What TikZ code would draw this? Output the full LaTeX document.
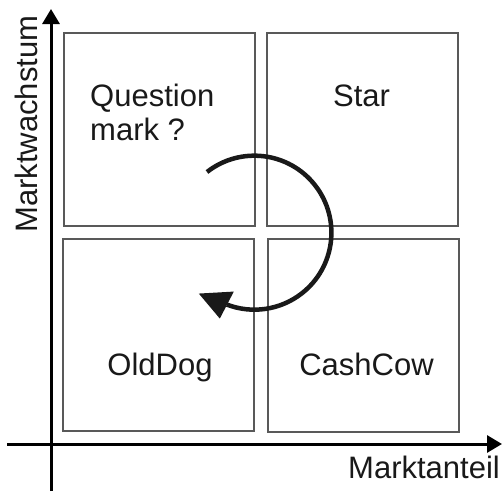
\documentclass[tikz,border=0pt]{standalone}
\usepackage{fontspec}
\setmainfont{Liberation Sans}
\usetikzlibrary{arrows.meta}
\begin{document}
\begin{tikzpicture}[x=1pt,y=-1pt,
  cell/.style={draw=black!65, line width=1.1pt, inner sep=0pt},
  lbl/.style={font=\fontsize{31}{35}\selectfont, inner sep=0pt, text=black!90},
  axis/.style={line width=3pt, -{Triangle[length=15pt,width=17pt]}}]
\useasboundingbox (0,0) rectangle (502,491);
% boxes
\node[cell, minimum width=191pt, minimum height=193pt] (q) at (159.5,129.5) {};
\node[cell, minimum width=191pt, minimum height=193pt] (s) at (362.5,129.5) {};
\node[cell, minimum width=191pt, minimum height=192pt] (d) at (158.5,335) {};
\node[cell, minimum width=191pt, minimum height=193pt] (c) at (363.5,335.5) {};
% labels
\node[lbl, anchor=base west] (q1) at (90,106) {Question};
\node[lbl, anchor=base west] (q2) at (90,140) {mark ?};
\node[lbl, anchor=base] (st) at (361.5,106) {Star};
\node[lbl, anchor=base] (od) at (160,375) {OldDog};
\node[lbl, anchor=base] (cc) at (366.5,375) {CashCow};
% axes
\coordinate (yb) at (51,491);
\coordinate (yt) at (51,9);
\coordinate (xl) at (7,444);
\coordinate (xr) at (502,444);
\draw[axis] (yb) -- (yt);
\draw[axis] (xl) -- (xr);
\node[lbl, anchor=base east] (xa) at (500,478) {Marktanteil};
\node[lbl, anchor=base west, rotate=90] (ya) at (37,233) {Marktwachstum};
% cycle arrow
\coordinate (arcstart) at (207,172);
\draw[line width=4.5pt, line cap=butt, black!90]
  (arcstart) arc[start angle=-128, end angle=111, radius=77] coordinate (arcend);
\path (arcend) ++(-28,-11) coordinate (tip);
\fill[black!90] (tip) -- ++(35,-2) -- ++(-14,27) -- cycle;
\end{tikzpicture}
\end{document}
